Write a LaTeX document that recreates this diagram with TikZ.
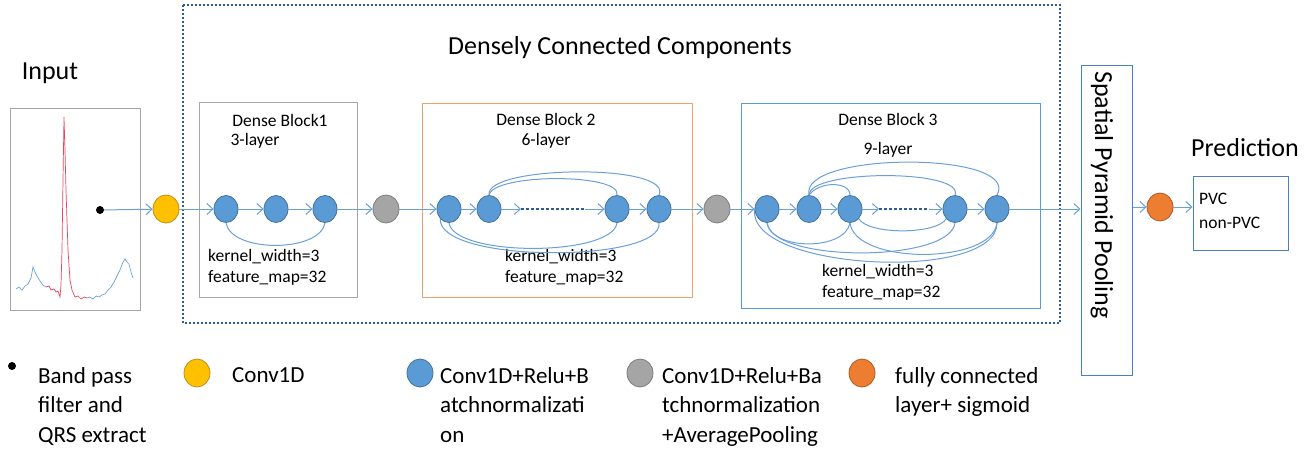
\documentclass[tikz,border=0pt]{standalone}
\usepackage{fontspec}
\setmainfont{Carlito}
\usepackage{tikz}
\usetikzlibrary{arrows.meta,shapes.geometric}
\definecolor{nodeblue}{HTML}{5B9BD5}
\definecolor{edgeblue}{HTML}{41719C}
\definecolor{linkblue}{HTML}{6A9FD8}
\definecolor{dotblue}{HTML}{2E5C96}
\definecolor{boxblue}{HTML}{4A7EC9}
\definecolor{boxgrey}{HTML}{A6A6A6}
\definecolor{boxorange}{HTML}{F0A06A}
\definecolor{sigred}{HTML}{E8485A}
\definecolor{sigblue}{HTML}{6FA3D3}
\def\bigtxt{\fontsize{26}{31}\selectfont}
\def\legtxt{\fontsize{23}{29.5}\selectfont}
\def\smtxt{\fontsize{17.5}{21}\selectfont}

\begin{document}
\begin{tikzpicture}[x=1pt,y=-1pt,
    lay/.style={ellipse,minimum width=24pt,minimum height=27pt,inner sep=0pt,line width=0.8pt},
    blu/.style={lay,draw=edgeblue,fill=nodeblue},
    yel/.style={lay,minimum width=26pt,minimum height=28pt,draw={rgb,255:red,190;green,145;blue,20},fill={rgb,255:red,255;green,192;blue,0}},
    gry/.style={lay,minimum width=26pt,minimum height=28pt,draw={rgb,255:red,125;green,125;blue,125},fill={rgb,255:red,165;green,165;blue,165}},
    org/.style={lay,minimum width=26pt,minimum height=28pt,draw={rgb,255:red,175;green,90;blue,35},fill={rgb,255:red,237;green,125;blue,49}},
    dot/.style={circle,fill=black,minimum size=8pt,inner sep=0pt},
    blk/.style={draw,line width=1pt,inner sep=0pt},
    conn/.style={color=linkblue,line width=1pt},
    arr/.style={conn,-{Straight Barb[length=6pt,width=11pt]}},
    dots/.style={draw=dotblue,line width=2.5pt,dash pattern=on 2.5pt off 2.5pt}]
  \useasboundingbox (0,0) rectangle (1305,450);

  \draw[dotblue,line width=2pt,dash pattern=on 2pt off 2pt] (183,5) rectangle (1060,323);
  \node[font=\bigtxt] (dcc) at (620,48) {Densely Connected Components};
  \node[font=\bigtxt] (inlbl) at (50,73) {Input};

  % input signal
  \draw[boxgrey,line width=0.8pt] (10,108) rectangle (140,310);
  \draw[sigblue,line width=0.7pt] (16,289) -- (19,287) -- (22,290) -- (25,286) -- (28,284) -- (31,278) -- (33,267)
    -- (35,272) -- (37,276) -- (40,281) -- (43,285) -- (46,287);
  \draw[sigred,line width=0.7pt] (46,287) -- (49,286) -- (51,290) -- (54,289) -- (56,292) -- (58,291) -- (60,297)
    -- (61,285) -- (62,250) -- (63,180) -- (64,117) -- (65,150) -- (66,190) -- (68,250) -- (70,280) -- (72,290)
    -- (75,297) -- (78,296) -- (81,299) -- (84,297) -- (87,298);
  \draw[sigblue,line width=0.7pt] (87,298) -- (90,297) -- (93,299) -- (96,296) -- (99,297) -- (102,295) -- (105,294)
    -- (108,290) -- (111,287) -- (114,282) -- (117,276) -- (120,270) -- (123,262) -- (125,259) -- (127,262)
    -- (129,264) -- (131,272) -- (133,278);
  \node[dot] (src) at (100,210) {};
  \node[yel] (y1) at (166,209) {};

  % dense block 1
  \node[blk,draw=boxgrey,minimum width=158pt,minimum height=195pt] (blk1) at (278,199.5) {};
  \node[font=\smtxt] (t1) at (280,120) {Dense Block1};
  \node[font=\smtxt] (l1) at (255,141) {3-layer};
  \node[blu] (a1) at (226,209) {};
  \node[blu] (a2) at (276,209) {};
  \node[blu] (a3) at (325,209) {};
  \node[font=\smtxt,align=left,anchor=west,inner sep=0pt] (k1) at (208,267.5) {kernel\_width=3\\feature\_map=32};
  \node[gry] (g1) at (386,209) {};

  % dense block 2
  \node[blk,draw=boxorange,minimum width=270pt,minimum height=194pt] (blk2) at (557,200) {};
  \node[font=\smtxt] (t2) at (546,119) {Dense Block 2};
  \node[font=\smtxt] (l2) at (546,141) {6-layer};
  \node[blu] (b1) at (449,209) {};
  \node[blu] (b2) at (489,209) {};
  \node[blu] (b3) at (617,209) {};
  \node[blu] (b4) at (659,209) {};
  \coordinate (d2l) at (521,209);
  \coordinate (d2r) at (585,209);
  \node[font=\smtxt,align=left,anchor=west,inner sep=0pt] (k2) at (505,267.5) {kernel\_width=3\\feature\_map=32};
  \node[gry] (g2) at (717,209) {};

  % dense block 3
  \node[blk,draw=nodeblue,minimum width=299pt,minimum height=205pt] (blk3) at (890.5,205.5) {};
  \node[font=\smtxt] (t3) at (888,119) {Dense Block 3};
  \node[font=\smtxt] (l3) at (888,150) {9-layer};
  \node[blu] (c1) at (767,209) {};
  \node[blu] (c2) at (809,209) {};
  \node[blu] (c3) at (850,209) {};
  \node[blu] (c4) at (955,209) {};
  \node[blu] (c5) at (997,209) {};
  \coordinate (d3l) at (879,209);
  \coordinate (d3r) at (929,209);
  \node[font=\smtxt,align=left,anchor=west,inner sep=0pt] (k3) at (822,282) {kernel\_width=3\\feature\_map=32};

  % pooling and output
  \node[blk,draw=boxblue,minimum width=51pt,minimum height=310pt] (spp) at (1106.5,220) {};
  \node[font=\bigtxt,rotate=-90,anchor=west,inner sep=0pt] (spptxt) at (1102,71) {Spatial Pyramid Pooling};
  \node[org] (o1) at (1160,207) {};
  \node[blk,draw=boxblue,minimum width=95pt,minimum height=74pt] (pred) at (1240.5,213) {};
  \node[font=\bigtxt] (predlbl) at (1245,148) {Prediction};
  \node[font=\fontsize{17.5}{24}\selectfont,align=left,anchor=north west,inner sep=0pt] (cls) at (1199,193) {PVC\\non-PVC};

  \path[arr] (src) edge (y1) (y1) edge (a1) (a1) edge (a2) (a2) edge (a3) (a3) edge (g1)
    (g1) edge (b1) (b1) edge (b2) (b2) edge (d2l) (d2r) edge (b3) (b3) edge (b4) (b4) edge (g2)
    (g2) edge (c1) (c1) edge (c2) (c2) edge (c3) (c3) edge (d3l) (d3r) edge (c4) (c4) edge (c5)
    (c5) edge (c5 -| spp.west) (spp.east |- o1) edge (o1) (o1) edge (o1 -| pred.west);
  \draw[dots] (d2l) -- (d2r);
  \draw[dots] (d3l) -- (d3r);

  % dense links
  \draw[conn] (a1.south) .. controls +(5,30) and +(-5,30) .. (a3.south);
  \draw[conn] (b2.north) .. controls +(-5,-30) and +(15,-32) .. (b4.north);
  \draw[conn] (b2.north) .. controls +(5,-22) and +(5,-22) .. (b3.north);
  \draw[conn] (b1.south) .. controls +(5,34) and +(-5,34) .. (b3.south);
  \draw[conn] (b1.south west) .. controls +(-2,45) and +(5,40) .. (b4.south);
  \draw[conn] (c2.north) .. controls +(-10,-44) and +(25,-44) .. (c5.north);
  \draw[conn] (c2.north) .. controls +(0,-26) and +(10,-26) .. (c4.north);
  \draw[conn] (c2.north) .. controls +(10,-14) and +(0,-14) .. (c3.north);
  \draw[conn] (c1.south) .. controls +(5,28) and +(-5,28) .. (c3.south);
  \draw[conn] (c1.south) .. controls +(5,40) and +(-5,40) .. (c4.south);
  \draw[conn] (c1.west) .. controls +(-8,62) and +(0,60) .. (c5.south);
  \draw[conn] (c3.south east) .. controls +(10,16) and +(-10,16) .. (c4.south west);
  \draw[conn] (c3.south) .. controls +(5,42) and +(-5,42) .. (c5.south);

  % legend
  \node[dot] (ld) at (12,366) {};
  \node[font=\legtxt,align=left,anchor=north west,inner sep=0pt] (lt1) at (38,367) {Band pass\\filter and\\QRS extract};
  \node[yel] (ly) at (197,373) {};
  \node[font=\legtxt,align=left,anchor=north west,inner sep=0pt] (lt2) at (232,367) {Conv1D};
  \node[blu,minimum width=26pt,minimum height=28pt] (lb) at (420,373) {};
  \node[font=\legtxt,align=left,anchor=north west,inner sep=0pt] (lt3) at (440,367) {Conv1D+Relu+B\\atchnormalizati\\on};
  \node[gry] (lg) at (640,373) {};
  \node[font=\legtxt,align=left,anchor=north west,inner sep=0pt] (lt4) at (662,367) {Conv1D+Relu+Ba\\tchnormalization\\+AveragePooling};
  \node[org] (lo) at (862,373) {};
  \node[font=\legtxt,align=left,anchor=north west,inner sep=0pt] (lt5) at (895,367) {fully connected\\layer+ sigmoid};
\end{tikzpicture}
\end{document}
